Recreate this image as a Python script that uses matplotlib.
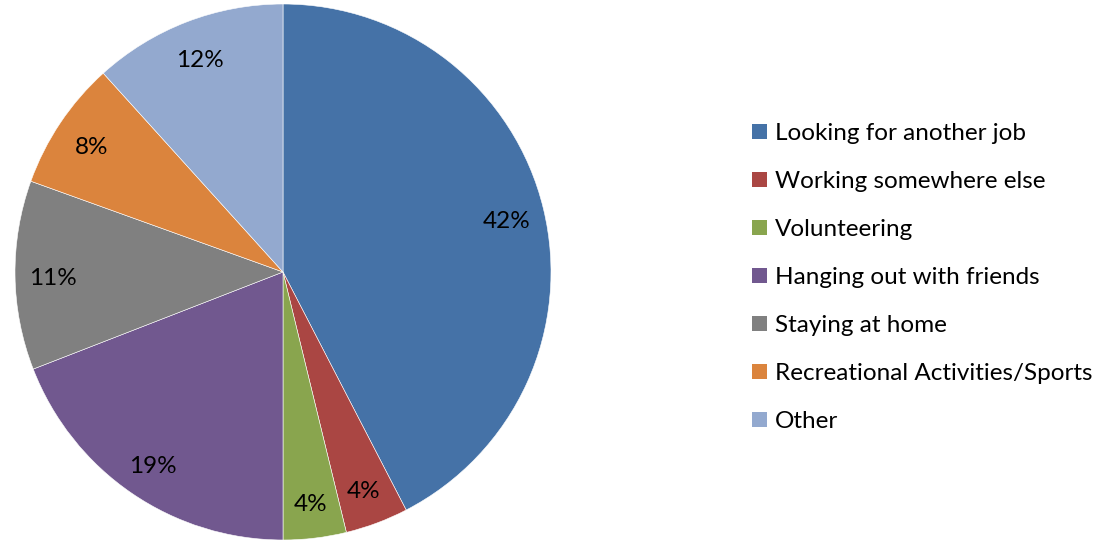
import matplotlib.pyplot as plt
from matplotlib.patches import Patch
from matplotlib.transforms import offset_copy

labels = ["Looking for another job", "Working somewhere else", "Volunteering",
          "Hanging out with friends", "Staying at home",
          "Recreational Activities/Sports", "Other"]
values = [42.4, 3.8, 3.8, 19.1, 11.4, 7.8, 11.7]
colors = ["#4572A7", "#AA4643", "#89A54E", "#71588F", "#808080", "#DB843D", "#93A9CF"]

plt.rcParams['font.family'] = ['Lato', 'DejaVu Sans']

W, H = 1113, 542
fig = plt.figure(figsize=(W / 100, H / 100), dpi=100)

cx, cy, r = 283, 542 - 272, 268
ax = fig.add_axes([(cx - r) / W, (cy - r) / H, 2 * r / W, 2 * r / H])
wedges, texts, autotexts = ax.pie(values, colors=colors, startangle=90, counterclock=False,
                                  autopct=lambda p: "%d%%" % round(p), pctdistance=0.86,
                                  wedgeprops=dict(edgecolor="white", linewidth=0.4),
                                  textprops=dict(fontsize=17.5, color="black"))
# nudge the percent labels down a little
for t in autotexts:
    t.set_transform(offset_copy(ax.transData, fig=fig, x=0, y=-4, units='dots'))
ax.set_xlim(-1, 1)
ax.set_ylim(-1, 1)
ax.set_aspect('equal')
ax.axis('off')

handles = [Patch(facecolor=c, edgecolor='none') for c in colors]
fig.legend(handles, labels, loc='upper left', bbox_to_anchor=(740 / W, 1 - 111 / H),
           frameon=False, fontsize=17.5, handlelength=0.6, handleheight=0.6,
           handletextpad=0.35, labelspacing=1.11, borderpad=0)

fig.savefig("out.png", dpi=100)
